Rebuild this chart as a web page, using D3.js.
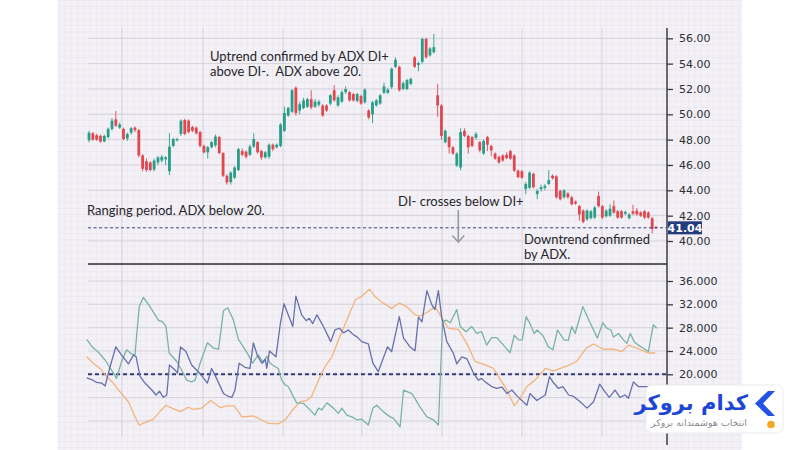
<!DOCTYPE html>
<html>
<head>
<meta charset="utf-8">
<script src="https://cdn.jsdelivr.net/npm/d3@7"></script>
<style>
  html, body { margin: 0; padding: 0; background: #fff; }
  svg { display: block; }
</style>
</head>
<body>
<div id="chart"></div>
<script>
// candles: [open, high, low, close]
var candles = [
  [47.95,48.7,47.8,48.55],[48.5,48.6,47.9,48.0],[48.35,48.45,47.9,48.0],[48.3,48.4,47.75,47.85],
  [47.85,48.4,47.8,48.3],[48.2,48.95,48.1,48.85],[48.85,49.7,48.7,49.5],[49.6,50.25,49.0,49.1],
  [48.95,49.35,48.85,49.2],[48.85,48.95,47.95,48.05],[48.1,48.55,47.9,48.45],[48.55,49.0,48.4,48.9],
  [48.95,49.05,48.6,48.75],[48.75,48.85,46.6,46.75],[46.75,46.85,45.5,45.7],[46.3,46.5,45.45,45.6],
  [46.2,46.3,45.5,45.6],[45.65,46.5,45.5,46.35],[46.2,46.7,46.0,46.6],[46.35,46.8,46.2,46.65],
  [46.45,46.7,46.0,46.6],[45.5,48.5,45.2,47.45],[47.5,48.15,47.4,48.05],[47.95,48.15,47.85,48.05],
  [48.45,49.6,48.3,49.5],[49.55,49.65,48.35,48.45],[49.5,49.6,48.5,48.6],[49.0,49.1,48.6,48.7],
  [48.95,49.05,48.4,48.5],[48.6,48.7,47.4,47.5],[47.5,47.6,46.9,47.0],[47.0,47.5,46.5,47.4],
  [47.4,47.9,47.3,47.8],[47.55,48.4,47.4,48.25],[48.2,48.3,46.85,46.95],[46.95,47.0,45.05,45.15],
  [45.15,45.25,44.45,44.62],[44.65,45.5,44.45,45.4],[45.0,45.9,44.9,45.8],[45.6,47.35,45.5,47.25],
  [47.1,47.3,46.7,46.8],[47.05,47.15,46.5,46.65],[46.8,47.6,46.7,47.45],[47.45,48.5,47.35,48.05],
  [47.8,47.9,46.9,47.0],[47.1,47.2,46.4,46.6],[46.6,47.1,46.5,47.0],[46.65,47.7,46.5,47.6],
  [47.6,47.7,47.1,47.25],[47.4,47.7,47.3,47.6],[47.5,49.3,47.4,49.2],[48.7,50.6,48.6,50.1],
  [49.9,50.6,49.8,50.5],[50.2,52.0,50.1,51.9],[52.1,52.2,49.9,50.1],[50.3,51.0,50.0,50.8],
  [50.5,51.3,50.4,51.1],[50.6,51.3,50.5,51.2],[51.2,51.9,50.4,50.55],[50.6,51.2,50.5,51.0],
  [50.75,51.15,50.6,51.0],[50.7,50.8,49.8,49.9],[50.7,50.8,50.2,50.3],[50.85,51.6,50.7,51.5],
  [51.9,52.3,51.0,51.1],[50.7,51.5,50.6,51.35],[51.0,51.9,50.9,51.75],[51.75,52.2,51.6,52.0],
  [51.75,51.85,51.0,51.1],[51.6,51.7,51.0,51.1],[51.05,51.7,50.95,51.6],[51.45,51.55,50.75,50.85],
  [50.95,52.05,50.85,51.95],[50.3,50.4,49.6,49.75],[50.0,51.05,49.3,50.95],[50.7,51.2,50.6,51.1],
  [50.85,51.6,50.75,51.5],[51.7,52.5,51.6,52.2],[51.7,52.1,51.6,51.95],[52.15,53.7,52.0,53.6],
  [53.75,54.5,53.65,54.3],[53.75,53.85,51.8,51.9],[52.0,52.6,51.9,52.45],[52.0,52.8,51.9,52.7],
  [52.4,52.9,52.3,52.8],[54.5,54.6,53.65,53.75],[53.9,54.15,53.4,54.05],[54.15,56.05,54.0,55.95],
  [55.95,56.05,54.4,54.5],[54.65,55.3,54.55,55.2],[54.9,56.35,54.8,55.3],[51.5,52.4,49.8,50.7],
  [50.7,50.8,48.0,48.3],[47.8,48.8,47.7,48.7],[48.2,48.3,46.9,47.4],[47.4,47.5,46.8,46.9],
  [45.95,47.0,45.85,46.9],[45.8,48.9,45.6,48.6],[48.7,48.9,48.2,48.3],[48.3,48.4,46.9,47.4],
  [48.2,48.3,47.4,47.5],[48.15,48.6,48.0,48.45],[47.8,47.9,47.0,47.15],[46.9,48.0,46.8,47.9],
  [48.2,48.3,47.1,47.6],[47.5,47.6,46.7,47.15],[46.9,47.0,46.4,46.5],[46.65,46.75,46.1,46.2],
  [46.75,46.85,46.25,46.35],[46.8,47.0,46.45,46.55],[47.1,47.2,46.4,46.5],[46.75,46.85,45.45,45.55],
  [45.55,45.65,44.95,45.05],[45.5,45.6,44.9,45.0],[44.1,44.65,43.7,44.5],[44.2,45.5,44.1,45.4],
  [45.3,45.4,44.15,44.25],[43.7,44.1,43.3,43.95],[44.1,44.45,43.9,44.25],[44.2,44.5,44.0,44.35],
  [44.5,45.6,44.4,44.8],[45.15,45.25,44.85,44.95],[45.1,45.2,43.35,43.45],[43.95,44.05,43.2,43.3],
  [43.45,44.1,43.35,44.0],[43.75,43.85,43.35,43.45],[43.45,43.55,42.8,42.9],[43.1,43.2,42.85,42.95],
  [42.75,42.85,41.6,42.1],[42.4,42.5,41.4,41.5],[41.7,42.5,41.6,42.4],[41.8,42.45,41.7,42.35],
  [41.85,42.75,41.75,42.65],[43.55,43.9,42.65,42.75],[42.75,42.85,41.75,41.85],[41.95,42.5,41.85,42.4],
  [42.0,42.9,41.9,42.55],[42.75,43.2,42.15,42.25],[42.35,42.45,41.75,41.85],[42.35,42.45,41.75,41.85],
  [42.15,42.4,42.05,42.3],[41.8,42.2,41.7,42.1],[42.35,42.85,42.05,42.15],[42.4,42.6,42.0,42.1],
  [42.25,42.35,41.9,42.0],[42.35,42.45,41.75,41.85],[42.25,42.35,41.75,41.85],[41.8,41.9,40.6,40.95],
  [41.1,41.2,40.95,41.04]
];

var lastPrice = 41.04;
var priceTicks = [40, 42, 44, 46, 48, 50, 52, 54, 56];
var adxGridTicks = [12, 16, 20, 24, 28, 32, 36];
var adxLabelTicks = [20, 24, 28, 32, 36];   // 16 and 12 sit behind the badge
var adxThreshold = 20;

// indicator vertices: [bar index, value]
var diPlus = [
  [-0.6,26.0],[1.1,24.5],[2.3,23.9],[4.2,22.45],[5.9,20.7],[7.2,19.3],[8.5,22.2],[9.8,24.2],[11.1,23.5],[12.0,23.3],
  [13.1,31.6],[14.2,33.2],[15.9,31.6],[18.1,29.3],[19.2,29.0],[20.1,28.2],[20.9,23.7],[22.9,22.2],[24.2,20.7],[25.5,19.0],
  [26.8,18.7],[27.7,19.0],[29.0,21.9],[30.9,25.4],[32.5,24.5],[33.8,24.3],[35.1,30.9],[36.2,31.4],[37.7,29.3],[39.0,26.0],
  [40.3,24.7],[41.6,23.3],[42.7,21.9],[43.3,22.5],[44.2,23.3],[45.5,22.0],[46.4,23.1],[47.3,21.9],[48.6,21.3],[49.4,21.0],
  [50.3,19.0],[51.2,18.2],[52.0,17.9],[54.2,15.1],[56.0,15.0],[57.7,13.9],[59.0,13.0],[59.9,14.2],[60.8,13.9],[62.1,15.1],
  [63.8,14.2],[65.1,13.3],[66.0,14.2],[67.3,13.0],[68.6,12.7],[69.9,12.2],[71.2,12.3],[72.9,11.3],[74.1,14.2],[75.1,14.7],
  [76.8,13.6],[78.6,12.7],[79.5,12.45],[81.2,11.0],[82.1,17.3],[84.3,16.7],[86.4,14.4],[88.2,12.7],[89.9,12.2],[91.2,11.3],
  [92.3,29.0],[93.2,29.3],[94.3,28.85],[96.0,31.1],[96.9,28.2],[98.4,27.3],[99.9,28.2],[101.2,27.0],[102.5,27.3],[103.8,25.0],
  [105.1,26.3],[106.4,26.3],[107.8,25.3],[109.9,23.7],[111.0,26.7],[112.1,25.9],[113.1,25.9],[114.1,29.9],[115.1,28.7],[116.2,27.0],
  [117.0,27.6],[118.5,26.6],[119.9,24.7],[121.1,24.2],[122.3,27.6],[124.0,25.9],[125.1,25.8],[126.0,28.2],[126.9,27.0],[128.9,31.6],
  [130.9,28.7],[132.7,26.2],[134.1,28.85],[135.2,27.9],[136.2,27.6],[136.9,26.4],[138.2,27.0],[139.5,25.9],[140.4,25.3],[141.3,27.0],
  [142.3,25.6],[143.4,25.0],[144.6,24.5],[146.0,23.9],[147.3,28.5],[148.2,27.9]
];

var diMinus = [
  [-0.6,19.4],[0.7,19.1],[2.0,18.6],[3.3,18.5],[4.2,18.0],[5.5,21.3],[7.0,24.7],[8.5,23.3],[10.3,21.8],[11.6,23.3],
  [12.3,23.0],[13.3,19.7],[14.6,18.5],[16.4,17.3],[17.5,16.45],[18.4,17.1],[19.4,16.05],[20.3,16.45],[21.0,21.6],[22.5,20.7],
  [23.1,20.2],[23.9,24.7],[25.3,23.9],[26.8,21.6],[28.1,20.7],[29.0,20.1],[30.9,18.5],[32.0,21.0],[33.3,19.3],[35.1,16.7],
  [36.4,16.2],[37.3,16.05],[38.1,17.3],[39.2,21.9],[40.7,21.2],[42.0,21.0],[42.9,25.4],[43.9,23.3],[45.1,21.9],[46.0,22.6],
  [46.4,21.0],[47.1,24.0],[48.8,23.0],[49.9,28.5],[50.9,32.1],[52.0,30.2],[53.2,28.2],[54.0,33.4],[55.5,30.2],[56.7,29.2],
  [57.5,29.6],[58.4,28.7],[59.5,30.2],[61.2,28.2],[63.1,25.6],[64.2,27.6],[65.4,27.9],[66.4,27.1],[67.7,27.6],[69.0,26.8],
  [69.9,26.45],[71.2,25.6],[72.9,25.2],[74.1,21.9],[75.5,20.45],[77.9,24.7],[79.0,23.9],[81.0,29.9],[82.1,26.2],[83.8,24.7],
  [85.1,24.05],[86.0,29.8],[86.9,29.0],[88.2,34.35],[89.5,31.9],[90.3,31.1],[91.2,34.35],[92.1,29.6],[93.4,25.6],[95.1,23.6],
  [96.0,21.8],[97.3,23.0],[98.6,22.7],[100.3,20.3],[101.6,19.0],[102.5,19.3],[103.4,18.7],[105.1,17.9],[106.4,17.6],[107.8,17.8],
  [109.1,16.7],[110.4,17.3],[111.7,16.3],[114.3,14.7],[115.1,16.7],[116.9,15.5],[119.1,16.45],[120.2,19.6],[121.3,18.5],[122.5,17.6],
  [123.7,17.9],[125.2,16.45],[126.5,16.2],[128.2,15.3],[130.0,14.2],[131.7,15.3],[133.3,18.3],[134.7,17.0],[135.8,16.05],[137.3,17.3],
  [138.6,16.05],[139.9,16.45],[140.8,15.9],[142.1,18.7],[143.4,17.9],[145.2,17.9],[148.2,17.9]
];

var adx = [
  [-0.6,23.0],[1.1,21.9],[2.9,21.0],[4.6,19.6],[6.3,18.5],[8.1,17.0],[10.3,15.3],[11.6,13.3],[13.1,11.3],[14.9,11.8],
  [16.8,12.3],[18.5,13.6],[20.1,14.7],[21.6,14.2],[23.8,13.6],[25.9,14.35],[27.2,14.0],[29.4,14.2],[31.8,15.5],[34.2,14.3],
  [36.0,14.6],[37.9,14.6],[39.9,12.7],[42.9,12.85],[44.6,12.3],[46.8,11.6],[49.4,11.5],[51.2,12.2],[53.8,14.4],[55.1,15.3],
  [56.8,15.5],[58.1,16.2],[59.9,19.0],[61.6,21.3],[63.4,23.0],[65.1,25.9],[67.3,29.3],[69.5,32.75],[71.2,33.4],[73.2,34.6],
  [74.7,33.3],[76.8,32.2],[79.0,31.3],[81.0,32.2],[82.9,31.6],[85.1,30.2],[86.4,30.0],[88.2,30.6],[90.3,31.6],[92.5,29.3],
  [93.8,27.9],[96.4,27.7],[98.6,25.3],[100.8,22.2],[103.4,21.6],[105.6,21.0],[106.9,19.6],[109.1,17.3],[111.0,14.6],[112.5,15.9],
  [114.3,17.9],[116.4,19.0],[119.1,21.0],[121.2,20.6],[124.7,21.4],[127.3,22.2],[129.8,24.5],[131.7,25.2],[134.3,24.3],[136.9,24.3],
  [139.1,23.9],[140.8,25.0],[143.0,24.5],[146.0,23.65],[147.8,23.65]
];

var width = 800, height = 450;
var plotLeft = 88, axisX = 667;

var svg = d3.select("#chart").append("svg")
  .attr("width", width)
  .attr("height", height);

var defs = svg.append("defs");
var minor = 6.3;
var pat = defs.append("pattern")
  .attr("id", "minor-grid")
  .attr("patternUnits", "userSpaceOnUse")
  .attr("x", 58).attr("y", 0)
  .attr("width", minor).attr("height", minor);
pat.append("rect").attr("width", minor).attr("height", minor).attr("fill", "#f3f1f6");
pat.append("path")
  .attr("d", "M" + minor + ",0 L0,0 L0," + minor)
  .attr("fill", "none").attr("stroke", "#e3dfe9").attr("stroke-width", 0.8);

svg.append("rect")
  .attr("x", 58).attr("y", 0)
  .attr("width", 742 - 58).attr("height", height)
  .attr("fill", "url(#minor-grid)");

// scales
var x = d3.scaleLinear().domain([0, candles.length - 1]).range([89, 656]);
var yPrice = d3.scaleLinear().domain([40, 56]).range([241, 38.3]);
var yAdx = d3.scaleLinear().domain([20, 36]).range([374.3, 281]);

// major grid
var grid = svg.append("g").attr("stroke", "#d6d2dc").attr("stroke-width", 1);
[122, 203, 283, 362, 442, 522, 602].forEach(function(gx) {
  grid.append("line").attr("x1", gx).attr("x2", gx).attr("y1", 28).attr("y2", 437);
});
priceTicks.forEach(function(t) {
  grid.append("line").attr("x1", plotLeft).attr("x2", axisX)
    .attr("y1", yPrice(t)).attr("y2", yPrice(t));
});
adxGridTicks.forEach(function(t) {
  grid.append("line").attr("x1", plotLeft).attr("x2", axisX)
    .attr("y1", yAdx(t)).attr("y2", yAdx(t));
});

// candles
var up = "#2a9d88", down = "#e0474f";
var cg = svg.append("g");
cg.selectAll(".wick")
  .data(candles)
  .enter().append("line")
  .attr("class", "wick")
  .attr("x1", function(d, i) { return x(i); })
  .attr("x2", function(d, i) { return x(i); })
  .attr("y1", function(d) { return yPrice(d[1]); })
  .attr("y2", function(d) { return yPrice(d[2]); })
  .attr("stroke", function(d) { return d[3] >= d[0] ? up : down; })
  .attr("stroke-width", 0.9);

cg.selectAll(".body")
  .data(candles)
  .enter().append("rect")
  .attr("class", "body")
  .attr("x", function(d, i) { return x(i) - 1.4; })
  .attr("width", 2.8)
  .attr("y", function(d) { return yPrice(Math.max(d[0], d[3])); })
  .attr("height", function(d) { return Math.max(1, Math.abs(yPrice(d[0]) - yPrice(d[3]))); })
  .attr("fill", function(d) { return d[3] >= d[0] ? up : down; });

// last price line
svg.append("line")
  .attr("x1", plotLeft).attr("x2", axisX)
  .attr("y1", yPrice(lastPrice)).attr("y2", yPrice(lastPrice))
  .attr("stroke", "#3a4480").attr("stroke-width", 1)
  .attr("stroke-dasharray", "3,2.5");

// panel divider
svg.append("line")
  .attr("x1", plotLeft).attr("x2", axisX)
  .attr("y1", 264).attr("y2", 264)
  .attr("stroke", "#2b2b2e").attr("stroke-width", 1.6);

// ADX threshold
svg.append("line")
  .attr("x1", plotLeft).attr("x2", axisX)
  .attr("y1", yAdx(adxThreshold)).attr("y2", yAdx(adxThreshold))
  .attr("stroke", "#333b78").attr("stroke-width", 2)
  .attr("stroke-dasharray", "4,3");

// indicator lines
var line = d3.line()
  .x(function(d) { return x(d[0]); })
  .y(function(d) { return yAdx(d[1]); });

[[adx, "#f2b47c"], [diPlus, "#78b3a6"], [diMinus, "#6670aa"]].forEach(function(s) {
  svg.append("path")
    .datum(s[0])
    .attr("d", line)
    .attr("fill", "none")
    .attr("stroke", s[1])
    .attr("stroke-width", 1.3)
    .attr("stroke-linejoin", "round");
});

// right axis
svg.append("line")
  .attr("x1", axisX).attr("x2", axisX)
  .attr("y1", 28).attr("y2", 445)
  .attr("stroke", "#3c3c40").attr("stroke-width", 1.5);

var priceAxis = d3.axisRight(yPrice).tickValues(priceTicks)
  .tickFormat(d3.format(".2f")).tickSize(6).tickPadding(6);
var adxAxis = d3.axisRight(yAdx).tickValues(adxLabelTicks)
  .tickFormat(d3.format(".3f")).tickSize(6).tickPadding(6);

[priceAxis, adxAxis].forEach(function(ax) {
  var g = svg.append("g").attr("transform", "translate(" + axisX + ",0)").call(ax);
  g.select(".domain").remove();
  g.selectAll(".tick line").attr("stroke", "#3c3c40").attr("stroke-width", 1.3);
  g.selectAll(".tick text")
    .attr("fill", "#2e2e33")
    .attr("font-family", "DejaVu Sans, sans-serif")
    .attr("font-size", 11);
});

// last price label
var lp = svg.append("g").attr("transform", "translate(668," + yPrice(lastPrice) + ")");
lp.append("rect").attr("x", 0).attr("y", -6.5).attr("width", 34).attr("height", 13).attr("fill", "#233a7c");
lp.append("text").attr("x", 17).attr("y", 4.2)
  .attr("text-anchor", "middle")
  .attr("fill", "#fff")
  .attr("font-family", "DejaVu Sans, sans-serif")
  .attr("font-weight", "bold")
  .attr("font-size", 11)
  .text(d3.format(".2f")(lastPrice));

// annotations
var notes = svg.append("g")
  .attr("font-family", "Lato, sans-serif")
  .attr("font-size", 13)
  .attr("fill", "#26262a");
notes.append("text").attr("x", 210).attr("y", 61).text("Uptrend confirmed by ADX DI+");
notes.append("text").attr("x", 210).attr("y", 76).text("above DI-.\u00a0 ADX above 20.");
notes.append("text").attr("x", 87).attr("y", 214.5).text("Ranging period. ADX below 20.");
notes.append("text").attr("x", 398).attr("y", 206).text("DI- crosses below DI+");
notes.append("text").attr("x", 524).attr("y", 243.5).text("Downtrend confirmed");
notes.append("text").attr("x", 524).attr("y", 259).text("by ADX.");

// arrow
svg.append("path")
  .attr("d", "M458.3,210 L458.3,242 M452.3,235.5 L458.3,242 L464.3,235.5")
  .attr("fill", "none").attr("stroke", "#9a9aa2").attr("stroke-width", 1.6);

// logo badge
var logo = svg.append("g");
logo.append("rect")
  .attr("x", 646).attr("y", 385).attr("width", 137).attr("height", 48)
  .attr("rx", 6).attr("fill", "#ffffff")
  .attr("stroke", "#ececf0").attr("stroke-width", 1);
logo.append("text")
  .attr("x", 748).attr("y", 410)
  .attr("text-anchor", "end")
  .attr("font-family", "DejaVu Sans, sans-serif").attr("font-weight", "bold")
  .attr("font-size", 21).attr("fill", "#1d45d8")
  .text("کدام بروکر");
logo.append("text")
  .attr("x", 747).attr("y", 426)
  .attr("text-anchor", "end")
  .attr("font-family", "DejaVu Sans, sans-serif")
  .attr("font-size", 9.5).attr("fill", "#8a8a90")
  .text("انتخاب هوشمندانه بروکر");
logo.append("path")
  .attr("d", "M775,391 L768,391 L755,403.5 L768,416 L775,416 L763,403.5 Z")
  .attr("fill", "#2452e6");
logo.append("circle").attr("cx", 771).attr("cy", 424.5).attr("r", 3.8).attr("fill", "#f5a623");
</script>
</body>
</html>
